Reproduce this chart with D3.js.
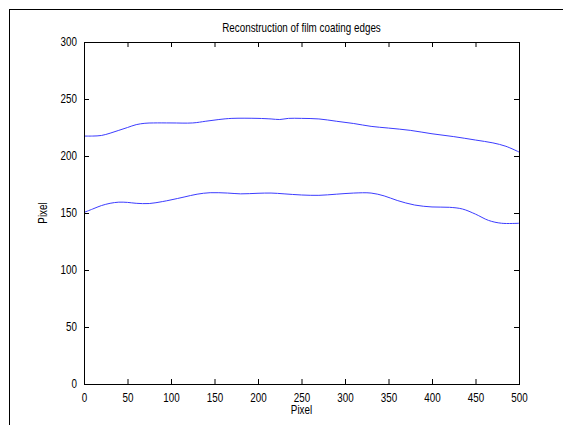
<!DOCTYPE html>
<html>
<head>
<meta charset="utf-8">
<script src="https://cdn.jsdelivr.net/npm/d3@7"></script>
<style>
  html, body { margin: 0; padding: 0; background: #fff; }
  svg text { font-family: "Liberation Sans", Arial, sans-serif; font-size: 12px; fill: #000; }
</style>
</head>
<body>
<svg id="chart" width="563" height="425"></svg>
<script>
// Sample positions (pixel column) and detected edge rows
const upperX = [0, 10, 20, 30, 40, 50, 60, 70, 80, 100, 125, 140, 155, 170, 200, 215, 225, 235, 250, 270, 290, 310, 330, 350, 375, 400, 425, 450, 470, 485, 500];
const upperY = [217.5, 217.5, 218, 220, 222.5, 225, 227.5, 228.7, 229, 229, 229, 230.5, 232, 233, 233, 232.5, 232, 233, 233, 232.5, 230.5, 228.5, 226, 224.5, 222.5, 219.5, 217, 214, 211.5, 208.5, 203.5];

const lowerX = [0, 10, 20, 30, 40, 50, 60, 75, 90, 100, 115, 130, 145, 165, 180, 200, 215, 230, 250, 270, 290, 310, 330, 345, 360, 380, 400, 420, 435, 450, 465, 480, 500];
const lowerY = [150.5, 153.5, 156.5, 158.5, 159.5, 159.3, 158.5, 158.3, 160, 161.5, 164, 166.5, 167.8, 167.5, 166.8, 167.3, 167.5, 166.8, 165.8, 165.5, 166.5, 167.5, 167.5, 165, 161, 157, 155.3, 155, 153.5, 149, 143.5, 141, 141];

const xTicks = [0, 50, 100, 150, 200, 250, 300, 350, 400, 450, 500];
const yTicks = [0, 50, 100, 150, 200, 250, 300];

const titleText = "Reconstruction of film coating edges";
const xLabel = "Pixel";
const yLabel = "Pixel";

const svg = d3.select("#chart");
const squeeze = 0.82; // horizontal compression giving a narrow face

// figure frame
svg.append("rect")
  .attr("x", 9.5).attr("y", 9.5)
  .attr("width", 700).attr("height", 600)
  .attr("fill", "none").attr("stroke", "#000").attr("stroke-width", 1);

const L = 84, R = 519, T = 42, B = 384;
const x = d3.scaleLinear().domain([0, 500]).range([L, R]);
const y = d3.scaleLinear().domain([0, 300]).range([B, T]);

// curves
const line = d3.line().x(d => x(d[0])).y(d => y(d[1])).curve(d3.curveCatmullRom.alpha(0.5));
[[upperX, upperY], [lowerX, lowerY]].forEach(([xs, ys]) => {
  svg.append("path")
    .datum(xs.map((v, i) => [v, ys[i]]))
    .attr("d", line)
    .attr("fill", "none")
    .attr("stroke", "#3c3cff")
    .attr("stroke-width", 1);
});

// axes box with inward ticks on all sides
const tl = 5;
const axBottom = d3.axisBottom(x).tickValues(xTicks).tickSize(-tl).tickPadding(9).tickFormat(d3.format("d"));
const axTop = d3.axisTop(x).tickValues(xTicks).tickSize(-tl).tickFormat("");
const axLeft = d3.axisLeft(y).tickValues(yTicks).tickSize(-tl).tickPadding(7).tickFormat(d3.format("d"));
const axRight = d3.axisRight(y).tickValues(yTicks).tickSize(-tl).tickFormat("");

function styleAxis(sel) {
  sel.select(".domain").remove();
  sel.selectAll(".tick line").attr("stroke", "#000");
  sel.selectAll("text").attr("fill", "#000")
    .attr("x", function() { return (+d3.select(this).attr("x") || 0) / squeeze; })
    .attr("transform", `scale(${squeeze},1)`);
  sel.attr("font-family", null).attr("font-size", null);
}
svg.append("g").attr("transform", `translate(0,${B})`).call(axBottom).call(styleAxis);
svg.append("g").attr("transform", `translate(0,${T})`).call(axTop).call(styleAxis);
svg.append("g").attr("transform", `translate(${L},0)`).call(axLeft).call(styleAxis);
svg.append("g").attr("transform", `translate(${R},0)`).call(axRight).call(styleAxis);
svg.append("rect").attr("x", L + 0.5).attr("y", T + 0.5).attr("width", R - L).attr("height", B - T)
  .attr("fill", "none").attr("stroke", "#000");

// title and axis labels
svg.append("text").attr("transform", `translate(${(L + R) / 2},31.5) scale(${squeeze},1)`)
  .attr("text-anchor", "middle").text(titleText);
svg.append("text").attr("transform", `translate(${(L + R) / 2},413.5) scale(${squeeze},1)`)
  .attr("text-anchor", "middle").text(xLabel);
svg.append("text").attr("transform", `translate(47,${(T + B) / 2}) rotate(-90) scale(${squeeze},1)`)
  .attr("text-anchor", "middle").text(yLabel);
</script>
</body>
</html>
